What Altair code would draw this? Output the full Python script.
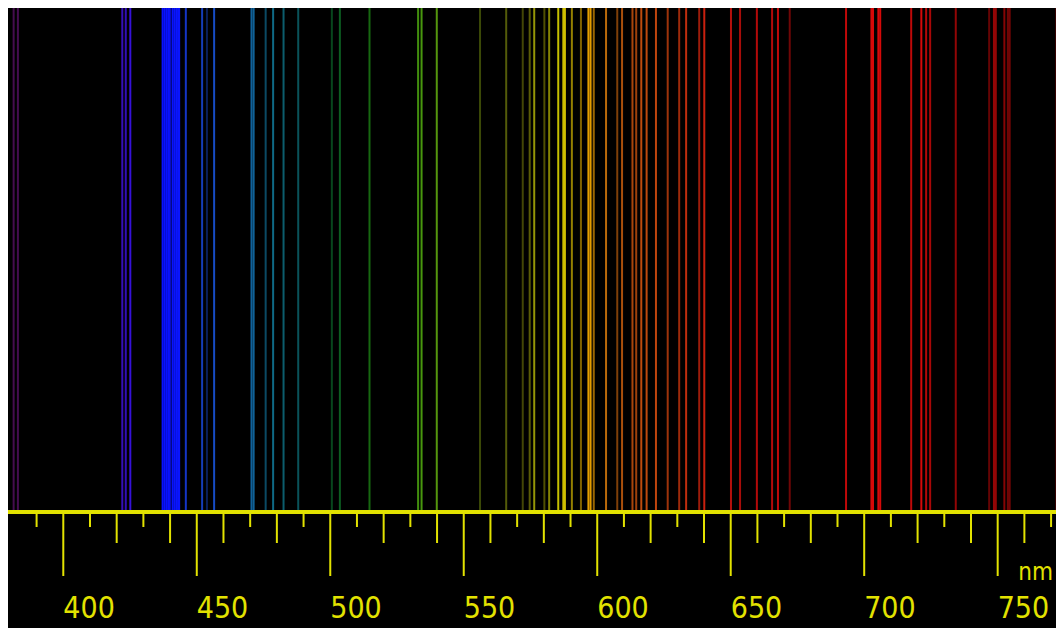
import altair as alt
import pandas as pd

# Emission lines: wavelength (nm) and relative intensity (0..1)
wavelengths = [381.4, 383.0, 422.1, 423.4, 425.1,
               437.2, 437.9, 438.6, 439.3, 439.9, 440.9, 441.6, 442.3, 443.0, 443.4,
               445.9, 452.0, 453.8, 456.5,
               470.5, 471.3, 475.8, 478.6, 482.5, 488.0,
               500.6, 503.6, 514.7, 532.9, 534.2, 539.9,
               556.1, 565.9, 572.1, 574.7, 576.4, 580.2, 582.0, 585.4, 587.3, 587.9,
               590.5, 593.9, 596.7, 597.5, 598.7, 603.3, 607.5, 609.3, 613.2, 614.6,
               616.5, 618.5, 622.0, 626.4, 630.7, 633.3, 638.2, 640.1,
               650.1, 653.5, 659.8, 665.5, 667.7, 672.1, 693.2,
               702.7, 703.3, 705.3, 706.0, 717.6, 721.4, 723.2, 724.7, 734.3,
               746.8, 748.6, 749.3, 752.5, 753.8, 754.5, 772.0, 773.0]
intensities = [0.4, 0.4, 0.72, 0.72, 0.85,
               1.0, 1.0, 1.0, 1.0, 0.95, 1.0, 1.0, 1.0, 1.0, 1.0,
               0.85, 0.8, 0.4, 0.85,
               0.8, 0.8, 0.55, 0.75, 0.65, 0.6,
               0.5, 0.65, 0.65, 0.85, 0.9, 0.9,
               0.45, 0.55, 0.4, 0.5, 0.8, 0.4, 0.65, 0.9, 0.9, 0.9,
               0.65, 0.55, 0.95, 0.95, 0.65, 0.8, 0.55, 0.75, 0.75, 0.7,
               0.85, 0.85, 0.85, 0.7, 0.7, 0.85, 0.7, 0.9,
               0.8, 0.75, 0.8, 0.8, 0.85, 0.5, 0.85,
               0.95, 0.95, 0.95, 0.95, 0.85, 0.95, 0.8, 0.75, 0.65,
               0.45, 0.65, 0.65, 0.6, 0.5, 0.5, 0.4, 0.4]

# Spectral hue scale (wavelength -> colour)
hue_nm = [380, 410, 430, 437, 444, 446, 456, 470, 480, 490, 500, 515, 535, 555, 570,
          585, 592, 597, 604, 612, 625, 635, 645, 660, 775]
hue_colors = ["#b020c0", "#7020ff", "#3010ff", "#0810ff", "#0a16ff", "#1a40e8",
              "#1a58e8", "#1478c0", "#1490b0", "#108a90", "#0e8a3a", "#24a018",
              "#52a810", "#80a010", "#a0a810", "#dcd800", "#e8c000", "#f0a800",
              "#e88010", "#e06010", "#e04c10", "#e03010", "#e01810", "#e00c0c",
              "#e00808"]

tick_nm = list(range(390, 780, 10))
label_nm = [400, 450, 500, 550, 600, 650, 700, 750]
unit_label = "nm"

W, H = 1048, 620
AXIS_Y = 504
YELLOW = "#e2e200"
FONT = "DejaVu Sans Condensed, DejaVu Sans, sans-serif"

lines_df = pd.DataFrame({"wl": wavelengths, "intensity": intensities})
ticks_df = pd.DataFrame({"wl": tick_nm})
ticks_df["kind"] = ["long" if v % 50 == 0 else ("medium" if v % 20 == 0 else "short")
                    for v in tick_nm]
labels_df = pd.DataFrame({"wl": label_nm, "label": [str(v) for v in label_nm]})

xscale = alt.Scale(domain=[379.29, 379.29 + W / 2.6697], nice=False, zero=False)
X = alt.X("wl:Q", scale=xscale, axis=None)

lines = alt.Chart(lines_df).mark_rule(strokeWidth=2).encode(
    x=X,
    y=alt.value(0),
    y2=alt.value(AXIS_Y - 1),
    color=alt.Color("wl:Q", scale=alt.Scale(domain=hue_nm, range=hue_colors,
                                            interpolate="rgb"), legend=None),
    opacity=alt.Opacity("intensity:Q", scale=alt.Scale(domain=[0, 1], range=[0, 1]),
                        legend=None),
)

axis_line = alt.Chart(lines_df).mark_rule(strokeWidth=3, color=YELLOW).encode(
    x=alt.value(0), x2=alt.value(W), y=alt.value(AXIS_Y)
)

def tick_layer(kind, length):
    return alt.Chart(ticks_df[ticks_df["kind"] == kind]).mark_rule(
        strokeWidth=2, color=YELLOW).encode(
        x=X, y=alt.value(AXIS_Y), y2=alt.value(AXIS_Y + length))

labels = alt.Chart(labels_df).mark_text(
    font=FONT, fontSize=30, color=YELLOW, align="left", baseline="alphabetic"
).encode(x=X, y=alt.value(610), text="label:N")

unit = alt.Chart(pd.DataFrame({"t": [unit_label]})).mark_text(
    font=FONT, fontSize=24, color=YELLOW, align="right", baseline="alphabetic"
).encode(x=alt.value(W - 3), y=alt.value(572), text="t:N")

chart = alt.layer(
    lines, axis_line,
    tick_layer("short", 15), tick_layer("medium", 31), tick_layer("long", 64),
    labels, unit
).properties(
    width=W, height=H, padding=0,
    autosize=alt.AutoSizeParams(type="none"),
    background="#000000",
).configure_view(strokeWidth=0, fill="#000000")

chart.save("out.html", embed_options={"renderer": "svg", "actions": False})
